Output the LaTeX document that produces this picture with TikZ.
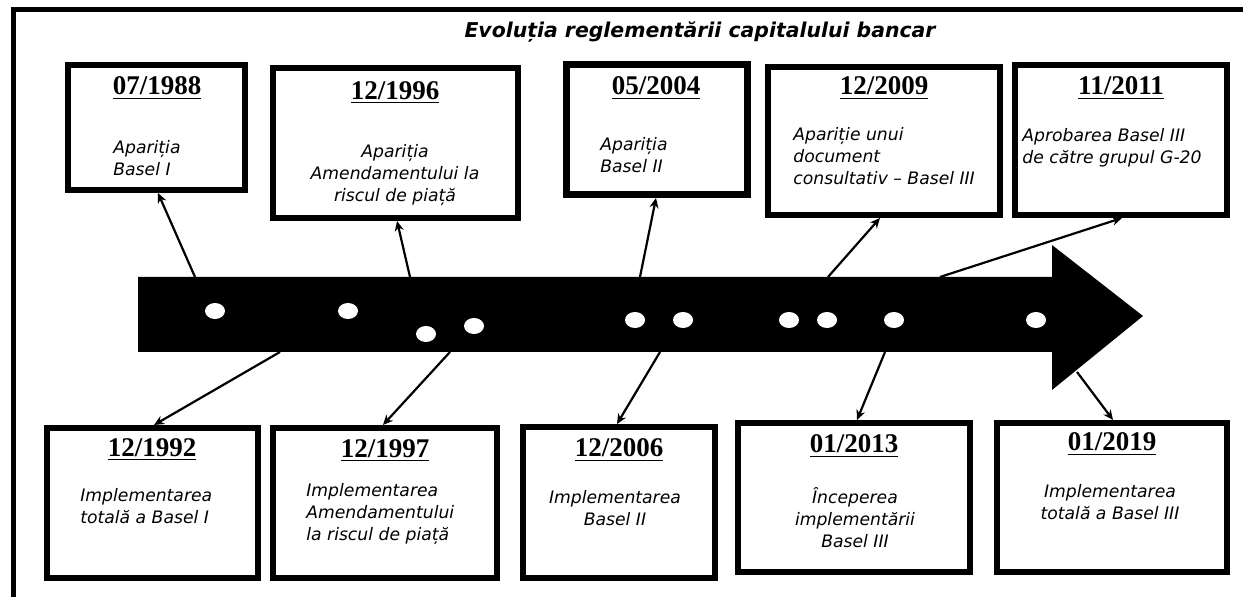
\documentclass[tikz,border=0pt]{standalone}
\usepackage{fontspec}
\setmainfont{Liberation Serif}
\newfontfamily\descfont{DejaVu Sans}
\usetikzlibrary{arrows.meta,fit}
\tikzset{
  box/.style={draw, line width=3pt, inner sep=0pt},
  datelbl/.style={font=\fontsize{13.5}{15}\selectfont\bfseries, inner sep=0pt},
  desc/.style={font=\descfont\itshape\fontsize{8.6}{11}\selectfont, inner sep=0pt},
  conn/.style={-{Stealth[length=5pt,width=4.5pt]}, line width=1.1pt},
  frame/.style={line width=2.5pt},
  dotw/.style={fill=white}
}
\begin{document}
\begin{tikzpicture}[x=0.5pt,y=-0.5pt]
\useasboundingbox (0,0) rectangle (1243,597);
% outer frame
\draw[frame] (13,597) -- (13,10) -- (1243,10);
% title
\node[font=\descfont\bfseries\itshape\fontsize{10.2}{12}\selectfont] (title) at (700,32) {Evoluția reglementării capitalului bancar};
% timeline arrow
\fill[black] (138,277) -- (1052,277) -- (1052,245) -- (1143,316) -- (1052,390) -- (1052,352) -- (138,352) -- cycle;
% dots
\foreach \px/\py in {215/311,348/311,426/334,474/326,635/320,683/320,789/320,827/320,894/320,1036/320}
  \fill[dotw] (\px,\py) ellipse [x radius=5pt, y radius=4pt];
% top boxes
\node[box, fit={(68,65) (245,190)}] (b1) {};
\node[box, fit={(273,68) (518,218)}] (b2) {};
\node[box, line width=3.5pt, fit={(566,65) (747,195)}] (b3) {};
\node[box, fit={(768,67) (1000,215)}] (b4) {};
\node[box, fit={(1015,65) (1227,215)}] (b5) {};
% bottom boxes
\node[box, fit={(47,428) (258,578)}] (b6) {};
\node[box, fit={(273,428) (497,578)}] (b7) {};
\node[box, fit={(523,427) (715,578)}] (b8) {};
\node[box, fit={(738,423) (970,572)}] (b9) {};
\node[box, fit={(997,423) (1227,572)}] (b10) {};
% dates
\node[datelbl] (d1) at (157,88) {\underline{07/1988}};
\node[datelbl] (d2) at (395,93) {\underline{12/1996}};
\node[datelbl] (d3) at (656,88) {\underline{05/2004}};
\node[datelbl] (d4) at (884,88) {\underline{12/2009}};
\node[datelbl] (d5) at (1121,88) {\underline{11/2011}};
\node[datelbl] (d6) at (152,450) {\underline{12/1992}};
\node[datelbl] (d7) at (385,451) {\underline{12/1997}};
\node[datelbl] (d8) at (619,450) {\underline{12/2006}};
\node[datelbl] (d9) at (854,446) {\underline{01/2013}};
\node[datelbl] (d10) at (1112,444) {\underline{01/2019}};
% descriptions
\node[desc, anchor=west, align=left] (t1) at (113,158) {Apariția\\Basel I};
\node[desc, align=center] (t2) at (395,175) {Apariția\\Amendamentului la\\riscul de piață};
\node[desc, anchor=west, align=left] (t3) at (600,155) {Apariția\\Basel II};
\node[desc, anchor=west, align=left] (t4) at (793,156) {Apariție unui\\document\\consultativ – Basel III};
\node[desc, anchor=west, align=left] (t5) at (1022,148) {Aprobarea Basel III\\de către grupul G-20};
\node[desc, anchor=west, align=left] (t6) at (80,506) {Implementarea\\totală a Basel I};
\node[desc, anchor=west, align=left] (t7) at (306,514) {Implementarea\\Amendamentului\\la riscul de piață};
\node[desc, align=center] (t8) at (615,508) {Implementarea\\Basel II};
\node[desc, align=center] (t9) at (855,518) {Începerea\\implementării\\Basel III};
\node[desc, align=center] (t10) at (1110,502) {Implementarea\\totală a Basel III};
% connector start points on the timeline
\coordinate (s1) at (195,277);
\coordinate (s2) at (410,277);
\coordinate (s3) at (640,277);
\coordinate (s4) at (828,277);
\coordinate (s5) at (940,277);
\coordinate (s6) at (280,352);
\coordinate (s7) at (450,352);
\coordinate (s8) at (660,352);
\coordinate (s9) at (885,352);
\coordinate (s10) at (1077,372);
% connector end points on the boxes
\coordinate (e1) at (158,193);
\coordinate (e2) at (397,221);
\coordinate (e3) at (656,198);
\coordinate (e4) at (880,218);
\coordinate (e5) at (1122,218);
\coordinate (e6) at (154,425);
\coordinate (e7) at (383,425);
\coordinate (e8) at (617,424);
\coordinate (e9) at (857,420);
\coordinate (e10) at (1113,420);
\foreach \i in {1,...,10}
  \draw[conn] (s\i) -- (e\i);
\end{tikzpicture}
\end{document}
